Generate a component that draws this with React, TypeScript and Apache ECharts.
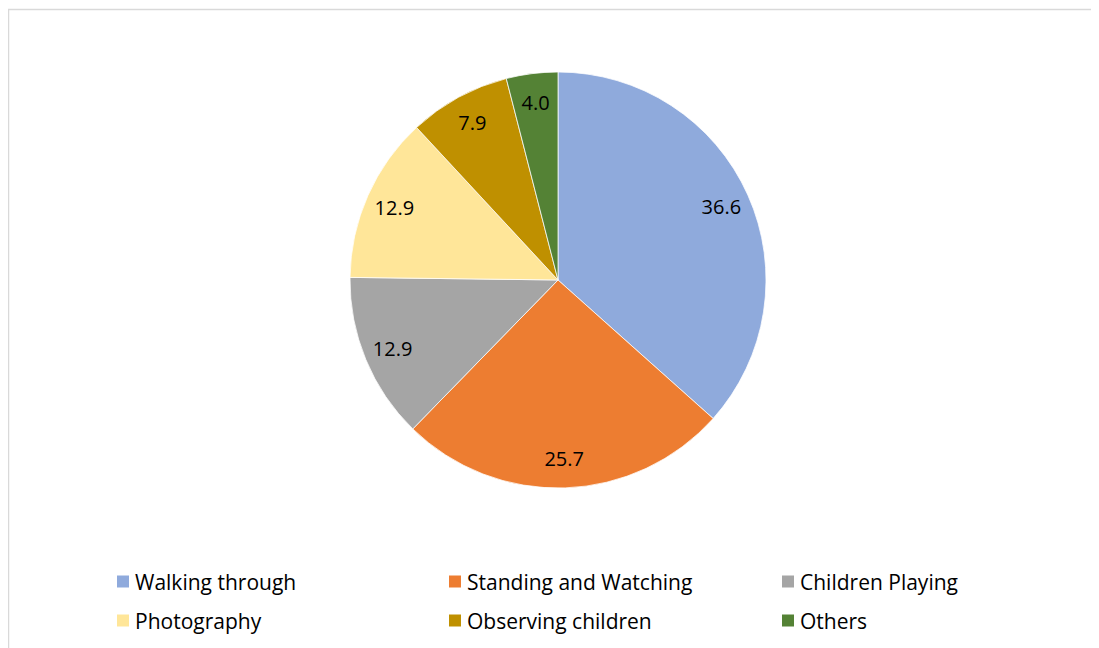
import React, { useEffect, useRef } from "react";
import * as echarts from "echarts";

const categories = [
  "Walking through",
  "Standing and Watching",
  "Children Playing",
  "Photography",
  "Observing children",
  "Others",
];
const values = [36.6, 25.7, 12.9, 12.9, 7.9, 4.0];
const colors = ["#8FAADC", "#ED7D31", "#A5A5A5", "#FFE699", "#BF9000", "#548235"];
const legendColumns = [
  ["Walking through", "Photography"],
  ["Standing and Watching", "Observing children"],
  ["Children Playing", "Others"],
];

const FONT = "'Open Sans', Lato, sans-serif";

export default function App() {
  const ref = useRef<HTMLDivElement>(null);
  useEffect(() => {
    if (!ref.current) return;
    document.documentElement.style.overflow = "hidden";
    const chart = echarts.init(ref.current, undefined, { renderer: "svg" });
    const data = categories.map((c, i) => ({
      name: c,
      value: values[i],
      itemStyle: { color: colors[i] },
    }));
    const colLeft = [107, 439, 772];
    chart.setOption({
      animation: false,
      backgroundColor: "#ffffff",
      graphic: [
        {
          type: "rect",
          shape: { x: 0.5, y: 1.5, width: 1089, height: 700 },
          style: { fill: "none", stroke: "#d9d9d9", lineWidth: 1.5 },
          silent: true,
        },
      ],
      legend: legendColumns.map((col, i) => ({
        data: col,
        orient: "vertical",
        left: colLeft[i],
        top: 563,
        padding: 0,
        itemWidth: 14,
        itemHeight: 14,
        itemGap: 18,
        icon: "rect",
        selectedMode: false,
        textStyle: { fontFamily: FONT, fontSize: 21, color: "#000000", lineHeight: 20 },
      })),
      series: [
        {
          type: "pie",
          center: [550, 272],
          radius: [0, 208],
          startAngle: 90,
          clockwise: true,
          data,
          label: { show: false },
          labelLine: { show: false },
          itemStyle: { borderColor: "#ffffff", borderWidth: 0.75 },
          emphasis: { disabled: true },
        },
        {
          type: "pie",
          center: [550, 272],
          radius: [140, 212],
          startAngle: 90,
          clockwise: true,
          silent: true,
          data: categories.map((c, i) => ({
            name: c,
            value: values[i],
            itemStyle: { color: "rgba(0,0,0,0)" },
          })),
          label: {
            show: true,
            position: "inside",
            formatter: (p: any) => Number(p.value).toFixed(1),
            fontFamily: FONT,
            fontSize: 20,
            color: "#000000",
          },
          labelLine: { show: false },
          emphasis: { disabled: true },
        },
      ],
    });
    return () => chart.dispose();
  }, []);
  return <div ref={ref} style={{ width: 1083, height: 640 }} />;
}
